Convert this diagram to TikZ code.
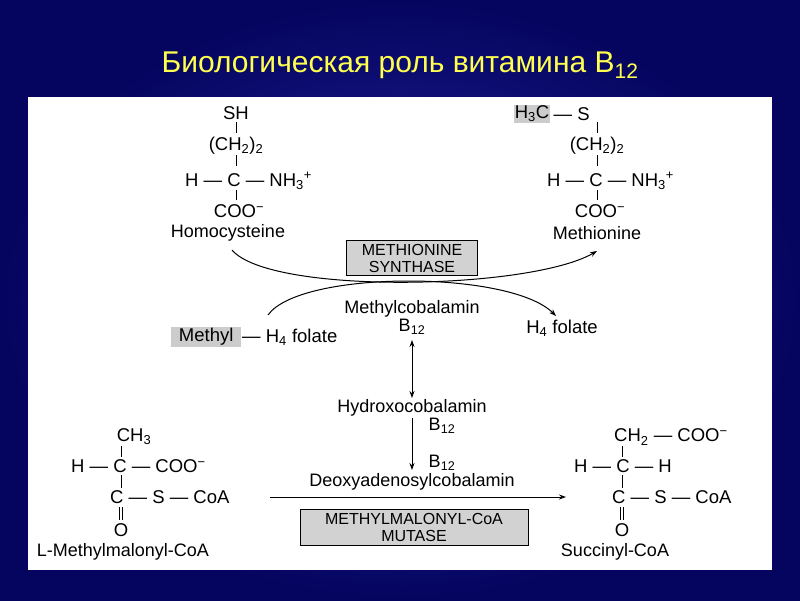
\documentclass[tikz,border=0pt]{standalone}
\usepackage{fontspec}
\setmainfont{Liberation Sans}
\usetikzlibrary{arrows.meta}
\definecolor{navyin}{RGB}{35,35,165}
\definecolor{navyout}{RGB}{5,5,95}
\definecolor{ttl}{RGB}{255,255,80}
\begin{document}
\begin{tikzpicture}[x=1pt,y=-1pt,
  t/.style={inner sep=0pt,font=\fontsize{18.5}{20}\selectfont},
  lbl/.style={inner sep=0pt,font=\fontsize{18}{20}\selectfont},
  enz/.style={draw=black,fill=gray!35,line width=0.9pt,align=center,inner sep=0pt,font=\fontsize{16}{17}\selectfont},
  shd/.style={fill=gray!40,inner sep=1pt,font=\fontsize{18.5}{20}\selectfont},
  bond/.style={line width=1pt},
  arr/.style={line width=1pt,-{Stealth[length=7pt,width=5pt]}}]
\useasboundingbox (0,0) rectangle (800,600);
\shade[inner color=navyin,outer color=navyout] (0,0) rectangle (800,600);
\node[text=ttl,font=\fontsize{30}{34}\selectfont] (title) at (400,65) {Биологическая роль витамина B\textsubscript{12}};
\fill[white] (28,97) rectangle (772,570);
% Homocysteine
\node[t] (hsh) at (236,113) {SH};
\node[t] (hch) at (236,146) {(CH\textsubscript{2})\textsubscript{2}};
\node[t,anchor=west] (hc) at (185,181) {H — C — NH\textsubscript{3}\textsuperscript{+}};
\node[t] (hcoo) at (239,211) {COO\textsuperscript{−}};
\node[lbl] (hname) at (228,233) {Homocysteine};
\draw[bond] (236,122)--(236,133) (236,155)--(236,166) (236,190)--(236,200);
% Methionine
\node[shd,minimum width=31pt,minimum height=17pt] (mme) at (532,114) {H\textsubscript{3}C};
\node[t,anchor=west] (ms) at (mme.east) {\,— S};
\node[t] (mch) at (597,146) {(CH\textsubscript{2})\textsubscript{2}};
\node[t,anchor=west] (mc) at (547,181) {H — C — NH\textsubscript{3}\textsuperscript{+}};
\node[t] (mcoo) at (600,211) {COO\textsuperscript{−}};
\node[lbl] (mname) at (597,233) {Methionine};
\draw[bond] (597,122)--(597,133) (597,155)--(597,166) (597,190)--(597,200);
% Synthase
\node[enz,minimum width=131pt,minimum height=35pt] (syn) at (412,258) {METHIONINE\\SYNTHASE};
\coordinate (c1s) at (232,250);
\coordinate (c1e) at (597,251);
\draw[arr] (c1s) .. controls (270,295) and (530,290) .. (c1e);
\coordinate (c2s) at (268,315);
\coordinate (c2e) at (556,316);
\draw[arr] (c2s) .. controls (300,270) and (510,270) .. (c2e);
% Folates
\node[shd,minimum width=70pt,minimum height=18pt,anchor=west] (methyl) at (171,337) {Methyl};
\node[t,anchor=west] (h4f) at (242,337) {— H\textsubscript{4} folate};
\node[lbl] (mcb) at (412,309) {Methylcobalamin};
\node[lbl] (b1) at (412,327) {B\textsubscript{12}};
\node[t] (h4f2) at (562,328) {H\textsubscript{4} folate};
\node[lbl] (hcb) at (412,408) {Hydroxocobalamin};
\node[lbl] (b2) at (442,426) {B\textsubscript{12}};
\node[lbl] (b3) at (442,463) {B\textsubscript{12}};
\node[lbl] (dcb) at (412,482) {Deoxyadenosylcobalamin};
\draw[line width=1pt,{Stealth[length=7pt,width=5pt]}-{Stealth[length=7pt,width=5pt]}] (412,340)--(412,398);
\draw[arr] (412,418)--(412,470);
% Methylmalonyl
\node[t] (lch3) at (134,437) {CH\textsubscript{3}};
\node[t,anchor=west] (lc) at (71,466) {H — C — COO\textsuperscript{−}};
\node[t,anchor=west] (lcs) at (110,497) {C — S — CoA};
\node[t] (lo) at (121,530) {O};
\draw[bond] (121,446)--(121,457) (121,475)--(121,488);
\draw[bond] (119.5,507)--(119.5,520) (122.5,507)--(122.5,520);
\node[lbl] (lname) at (123,552) {L-Methylmalonyl-CoA};
% Succinyl
\node[t,anchor=west] (sch2) at (614,437) {CH\textsubscript{2} — COO\textsuperscript{−}};
\node[t] (sc) at (623,466) {H — C — H};
\node[t,anchor=west] (scs) at (612,497) {C — S — CoA};
\node[t] (so) at (622,530) {O};
\draw[bond] (622,446)--(622,457) (622,475)--(622,488);
\draw[bond] (620.5,507)--(620.5,520) (623.5,507)--(623.5,520);
\node[lbl] (sname) at (615,552) {Succinyl-CoA};
\draw[arr] (270,497)--(566,497);
\node[enz,minimum width=228pt,minimum height=36pt] (mut) at (414,527) {METHYLMALONYL-CoA\\MUTASE};
\end{tikzpicture}
\end{document}
